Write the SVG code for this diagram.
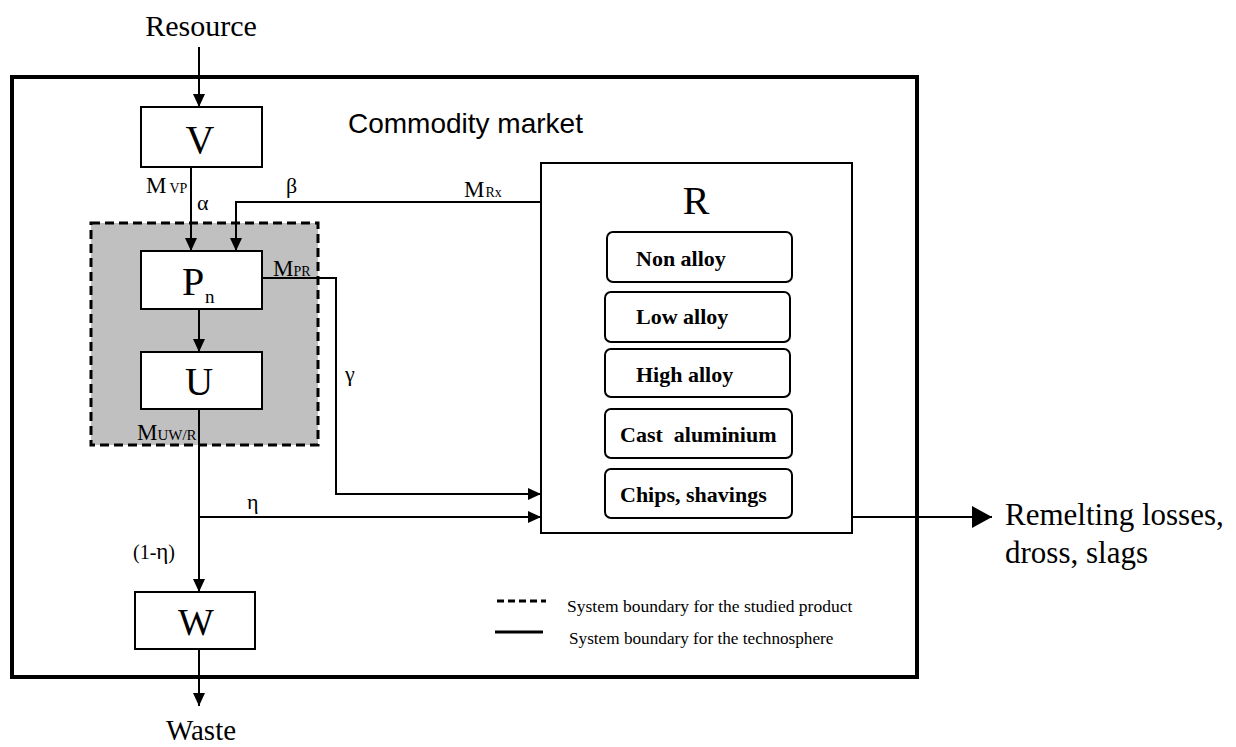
<svg xmlns="http://www.w3.org/2000/svg" width="1236" height="747" viewBox="0 0 1236 747">
<defs>
<marker id="ah" markerWidth="13" markerHeight="12" refX="13" refY="6" orient="auto" markerUnits="userSpaceOnUse">
<path d="M0,0 L13,6 L0,12 Z" fill="#000"/>
</marker>
<marker id="ahb" markerWidth="20" markerHeight="22" refX="20" refY="11" orient="auto" markerUnits="userSpaceOnUse">
<path d="M0,0 L20,11 L0,22 Z" fill="#000"/>
</marker>
<style>
.t{font-family:"Liberation Serif","Times New Roman",serif;fill:#000}
.s{font-family:"Liberation Sans",Arial,sans-serif;fill:#000}
.box{fill:#fff;stroke:#000;stroke-width:2}
.rb{fill:#fff;stroke:#000;stroke-width:2}
.ln{fill:none;stroke:#000;stroke-width:2}
.b{font-weight:bold;font-size:22px}
</style>
</defs>
<rect x="0" y="0" width="1236" height="747" fill="#fff"/>
<rect id="technosphere" x="12" y="77" width="905" height="600" fill="none" stroke="#000" stroke-width="4"/>
<g id="product-boundary">
<rect x="91" y="223" width="227" height="222" fill="#c0c0c0" stroke="#000" stroke-width="3" stroke-dasharray="9,5"/>
</g>
<text class="s" x="348" y="133" font-size="28">Commodity market</text>
<text class="t" x="201" y="36" font-size="30" text-anchor="middle">Resource</text>
<text class="t" x="201" y="740" font-size="29" text-anchor="middle">Waste</text>
<g id="connectors">
<line class="ln" x1="199" y1="47" x2="199" y2="107" marker-end="url(#ah)"/>
<line class="ln" x1="191" y1="167" x2="191" y2="251" marker-end="url(#ah)"/>
<polyline class="ln" points="541,202 236,202 236,251" marker-end="url(#ah)"/>
<line class="ln" x1="199" y1="309" x2="199" y2="352" marker-end="url(#ah)"/>
<polyline class="ln" points="259,278 336,278 336,494 541,494" marker-end="url(#ah)"/>
<line class="ln" x1="199" y1="409" x2="199" y2="592" marker-end="url(#ah)"/>
<line class="ln" x1="199" y1="517" x2="541" y2="517" marker-end="url(#ah)"/>
<line class="ln" x1="199" y1="649" x2="199" y2="706" marker-end="url(#ah)"/>
<line class="ln" x1="852" y1="517" x2="992" y2="517" marker-end="url(#ahb)"/>
</g>
<g id="node-V"><rect class="box" x="141" y="107" width="121" height="60"/><text class="t" x="200" y="153" font-size="40" text-anchor="middle">V</text></g>
<g id="node-P"><rect class="box" x="141" y="251" width="121" height="58"/><text class="t" x="182" y="295" font-size="40">P</text><text class="t" x="205" y="303" font-size="19">n</text></g>
<g id="node-U"><rect class="box" x="141" y="352" width="121" height="57"/><text class="t" x="199" y="395" font-size="39" text-anchor="middle">U</text></g>
<g id="node-W"><rect class="box" x="135" y="592" width="120" height="57"/><text class="t" x="196" y="635" font-size="38" text-anchor="middle">W</text></g>
<g id="node-R">
<rect class="box" x="541" y="163" width="311" height="370"/>
<text class="t" x="696" y="214" font-size="40" text-anchor="middle">R</text>
<rect class="rb" x="607" y="232" width="185" height="50" rx="6"/>
<text class="t b" x="636" y="266">Non alloy</text>
<rect class="rb" x="605" y="292" width="185" height="50" rx="6"/>
<text class="t b" x="636" y="324">Low alloy</text>
<rect class="rb" x="605" y="349" width="185" height="48" rx="6"/>
<text class="t b" x="636" y="382">High alloy</text>
<rect class="rb" x="605" y="409" width="187" height="49" rx="6"/>
<text class="t b" x="620" y="442" xml:space="preserve">Cast  aluminium</text>
<rect class="rb" x="605" y="469" width="187" height="49" rx="6"/>
<text class="t b" x="620" y="502">Chips, shavings</text>
</g>
<g id="labels">
<text class="t" x="146" y="193" font-size="23">M<tspan font-size="14" dx="3">VP</tspan></text>
<text class="t" x="197" y="210" font-size="22">α</text>
<text class="t" x="286" y="193" font-size="22">β</text>
<text class="t" x="464" y="197" font-size="23">M<tspan font-size="14" dx="1">Rx</tspan></text>
<text class="t" x="273" y="276" font-size="23">M<tspan font-size="14">PR</tspan></text>
<text class="t" x="345" y="381" font-size="22">γ</text>
<text class="t" x="137" y="440" font-size="23">M<tspan font-size="15">UW/R</tspan></text>
<text class="t" x="247" y="509" font-size="22">η</text>
<text class="t" x="133" y="559" font-size="20">(1-<tspan font-size="23">η</tspan>)</text>
<text class="t" x="1005" y="525" font-size="31">Remelting losses,</text>
<text class="t" x="1005" y="563" font-size="31">dross, slags</text>
</g>
<g id="legend">
<line x1="497" y1="601" x2="546" y2="601" stroke="#000" stroke-width="3" stroke-dasharray="7,4"/>
<line x1="495" y1="632" x2="543" y2="632" stroke="#000" stroke-width="3"/>
<text class="t" x="567" y="612" font-size="17.5">System boundary for the studied product</text>
<text class="t" x="569" y="644" font-size="17.2">System boundary for the technosphere</text>
</g>
</svg>
